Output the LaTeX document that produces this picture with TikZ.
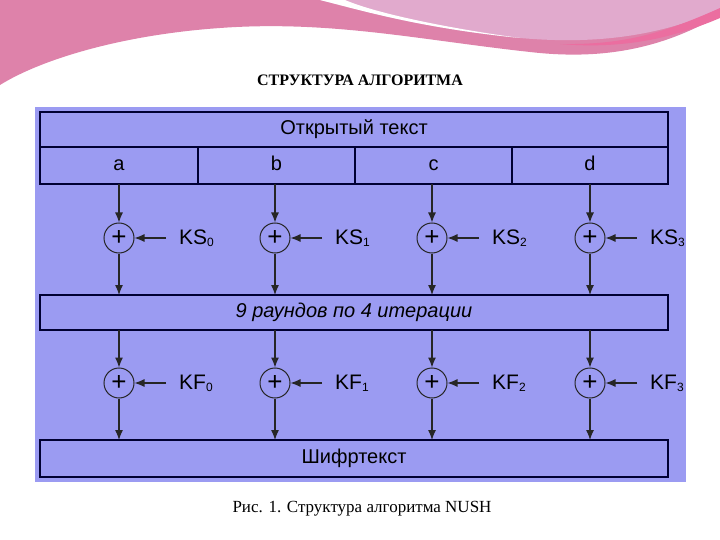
\documentclass[tikz,border=0pt]{standalone}
\usepackage{fontspec}
\setsansfont{Liberation Sans}
\setmainfont{Liberation Serif}
\begin{document}
\begin{tikzpicture}[x=1pt,y=-1pt,
  box/.style={draw=black!80!blue,line width=1.2pt,fill=panel,inner sep=0pt,text height=14pt,text depth=4pt,font=\sffamily\fontsize{20}{20}\selectfont},
  xor/.style={circle,draw=black!85,line width=1pt,minimum size=30pt,inner sep=0pt,font=\sffamily\fontsize{26}{26}\selectfont},
  arr/.style={-{Latex[length=10pt,width=8pt]},line width=1.2pt,draw=black!85},
  klab/.style={font=\sffamily\fontsize{21}{21}\selectfont,anchor=west,inner sep=0pt}]
\usetikzlibrary{arrows.meta}
\definecolor{panel}{RGB}{155,155,242}
\definecolor{pinkA}{RGB}{222,130,170}
\definecolor{pinkB}{RGB}{225,170,205}
\definecolor{pinkC}{RGB}{235,110,160}
\useasboundingbox (0,0) rectangle (720,540);
\fill[white] (0,0) rectangle (720,540);
% top decoration
\fill[pinkA] (0,0) -- (720,0) -- (720,15) .. controls (660,50) and (600,60) .. (530,52)
  .. controls (420,40) and (330,20) .. (220,28) .. controls (120,35) and (40,60) .. (0,85) -- cycle;
\fill[pinkB] (320,0) -- (720,0) -- (720,10) .. controls (660,35) and (600,45) .. (520,38)
  .. controls (420,28) and (360,10) .. (320,0) -- cycle;
\fill[white] (320,0) .. controls (360,10) and (420,28) .. (520,38) .. controls (460,30) and (380,15) .. (345,0) -- cycle;
\fill[pinkC] (720,8) .. controls (660,35) and (620,45) .. (560,44) .. controls (630,50) and (680,35) .. (720,18) -- cycle;
\node[font=\bfseries\fontsize{16}{16}\selectfont] (title) at (360,80) {СТРУКТУРА АЛГОРИТМА};
% panel
\fill[panel] (35,107) rectangle (686,482);
\node[box,minimum width=628pt,minimum height=35pt] (pt) at (354,129.5) {Открытый текст};
\foreach \n/\xa/\xb/\t in {a/40/198/a,b/198/355/b,c/355/512/c,d/512/668/d}{
  \node[box,minimum width={\xb-\xa},minimum height=37pt] (\n) at ({(\xa+\xb)/2},165.5) {\t};
}
\node[box,minimum width=628pt,minimum height=35pt,font=\sffamily\itshape\fontsize{20}{20}\selectfont] (mid) at (354,312.5) {9 раундов по 4 итерации};
\node[box,minimum width=628pt,minimum height=37pt] (ct) at (354,458.5) {Шифртекст};
\foreach \i/\x in {0/119,1/275,2/432,3/590}{
  \node[xor] (s\i) at (\x,238) {+};
  \node[xor] (f\i) at (\x,383) {+};
  \node[klab] (ks\i) at (\x+60,238) {KS{\fontsize{12}{12}\selectfont\raisebox{-2pt}{\i}}};
  \node[klab] (kf\i) at (\x+60,383) {KF{\fontsize{12}{12}\selectfont\raisebox{-2pt}{\i}}};
  \coordinate (cs\i) at (\x,184);
  \coordinate (ms\i) at (\x,295);
  \coordinate (me\i) at (\x,330);
  \coordinate (ce\i) at (\x,440);
  \draw[arr] (cs\i) -- (s\i);
  \draw[arr] (s\i) -- (ms\i);
  \draw[arr] (me\i) -- (f\i);
  \draw[arr] (f\i) -- (ce\i);
  \draw[arr] ([xshift=-13pt]ks\i.west) -- (s\i);
  \draw[arr] ([xshift=-13pt]kf\i.west) -- (f\i);
}
\node[font=\fontsize{17}{17}\selectfont] (cap) at (362,509) {Рис. 1. Структура алгоритма NUSH};
\end{tikzpicture}
\end{document}
